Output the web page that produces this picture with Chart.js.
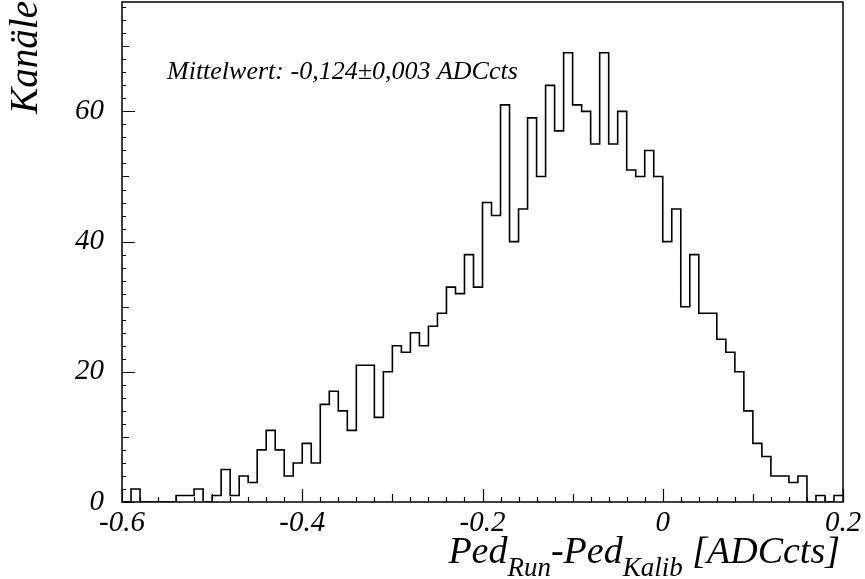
<!DOCTYPE html>
<html>
<head>
<meta charset="utf-8">
<script src="https://cdn.jsdelivr.net/npm/chart.js@4"></script>
<style>
  body { margin: 0; background: #fff; }
  canvas { display: block; }
</style>
</head>
<body>
<canvas id="hist" width="865" height="579"></canvas>
<script>
// histogram: 80 bins of 0.01 from -0.6 to 0.2
const binLow = -0.6
const binWidth = 0.01
const counts = [
  0, 2, 0, 0, 0, 0, 1, 1, 2, 0,
  1, 5, 1, 4, 3, 8, 11, 8, 4, 6,
  9, 6, 15, 17, 14, 11, 21, 21, 13, 20,
  24, 23, 26, 24, 27, 29, 33, 32, 38, 33,
  46, 44, 61, 40, 45, 59, 50, 64, 57, 69,
  61, 60, 55, 69, 55, 60, 51, 50, 54, 50,
  40, 45, 30, 38, 29, 29, 25, 23, 20, 14,
  9, 7, 4, 4, 3, 4, 0, 1, 0, 1
]
const xTickValues = [-0.6, -0.4, -0.2, 0, 0.2]
const xTickLabels = ['-0.6', '-0.4', '-0.2', '0', '0.2']
const yTickValues = [0, 20, 40, 60]
const yTickLabels = ['0', '20', '40', '60']
const meanText = 'Mittelwert: -0,124\u00b10,003 ADCcts'
const yTitle = 'Kanäle'

const serif = '"Liberation Serif", "DejaVu Serif", serif'

// step points at bin lower edges, plus closing point at upper edge
const points = counts.map((c, i) => ({ x: binLow + i * binWidth, y: c }))
points.push({ x: binLow + counts.length * binWidth, y: counts[counts.length - 1] })

const rootFrame = {
  id: 'rootFrame',
  afterDraw(chart) {
    const ctx = chart.ctx
    const a = chart.chartArea
    const xs = chart.scales.x
    const ys = chart.scales.y
    ctx.save()
    ctx.strokeStyle = '#000'
    ctx.lineWidth = 1.5
    ctx.strokeRect(a.left, a.top, a.right - a.left, a.bottom - a.top)

    // inward ticks
    ctx.lineWidth = 1.2
    ctx.beginPath()
    for (let v = 0; v <= ys.max; v += 2) {
      const len = v % 20 === 0 ? 13 : (v % 10 === 0 ? 7 : 4)
      const py = Math.round(ys.getPixelForValue(v)) + 0.5
      ctx.moveTo(a.left, py)
      ctx.lineTo(a.left + len, py)
    }
    for (let k = 0; k <= 40; k++) {
      const v = -0.6 + k * 0.02
      const len = k % 10 === 0 ? 13 : (k % 5 === 0 ? 8 : 5)
      const px = Math.round(xs.getPixelForValue(v)) + 0.5
      ctx.moveTo(px, a.bottom)
      ctx.lineTo(px, a.bottom - len)
    }
    ctx.stroke()

    ctx.fillStyle = '#000'
    // mean annotation
    ctx.font = 'italic 26px ' + serif
    ctx.textAlign = 'left'
    ctx.textBaseline = 'alphabetic'
    ctx.fillText(meanText, 167, 79)

    // y title, rotated
    ctx.save()
    ctx.translate(37, 1)
    ctx.rotate(-Math.PI / 2)
    ctx.font = 'italic 39px ' + serif
    ctx.textAlign = 'right'
    ctx.fillText(yTitle, 0, 0)
    ctx.restore()

    // x title with subscripts, right aligned
    const parts = [
      ['Ped', 38, 0], ['Run', 27, 13], ['-Ped', 38, 0], ['Kalib', 27, 13], [' [ADCcts]', 38, 0]
    ]
    let total = 0
    parts.forEach(p => {
      ctx.font = 'italic ' + p[1] + 'px ' + serif
      total += ctx.measureText(p[0]).width
    })
    let x = 840 - total
    parts.forEach(p => {
      ctx.font = 'italic ' + p[1] + 'px ' + serif
      ctx.fillText(p[0], x, 563 + p[2])
      x += ctx.measureText(p[0]).width
    })
    ctx.restore()
  }
}

new Chart(document.getElementById('hist'), {
  type: 'line',
  data: {
    datasets: [{
      data: points,
      stepped: 'before',
      borderColor: '#000',
      borderWidth: 1.6,
      pointRadius: 0,
      fill: false
    }]
  },
  options: {
    responsive: false,
    animation: false,
    layout: { padding: { top: 2, right: 22, left: 0, bottom: 0 } },
    plugins: {
      legend: { display: false },
      tooltip: { enabled: false }
    },
    scales: {
      x: {
        type: 'linear',
        min: -0.6,
        max: 0.2,
        grid: { display: false, drawTicks: false },
        border: { display: false },
        afterBuildTicks: (s) => { s.ticks = xTickValues.map(v => ({ value: v })) },
        afterFit: (s) => {
          s.height = 77
          s.paddingLeft = 0
          s.paddingRight = 0
        },
        ticks: {
          autoSkip: false,
          maxRotation: 0,
          padding: 4,
          color: '#000',
          font: { family: serif, style: 'italic', size: 29 },
          callback: (v, i) => xTickLabels[i]
        }
      },
      y: {
        type: 'linear',
        min: 0,
        max: 76.8,
        grid: { display: false, drawTicks: false },
        border: { display: false },
        afterBuildTicks: (s) => { s.ticks = yTickValues.map(v => ({ value: v })) },
        afterFit: (s) => {
          s.width = 122
          s.paddingTop = 0
          s.paddingBottom = 0
        },
        ticks: {
          padding: 18,
          color: '#000',
          font: { family: serif, style: 'italic', size: 29 },
          callback: (v, i) => yTickLabels[i]
        }
      }
    }
  },
  plugins: [rootFrame]
})
</script>
</body>
</html>
